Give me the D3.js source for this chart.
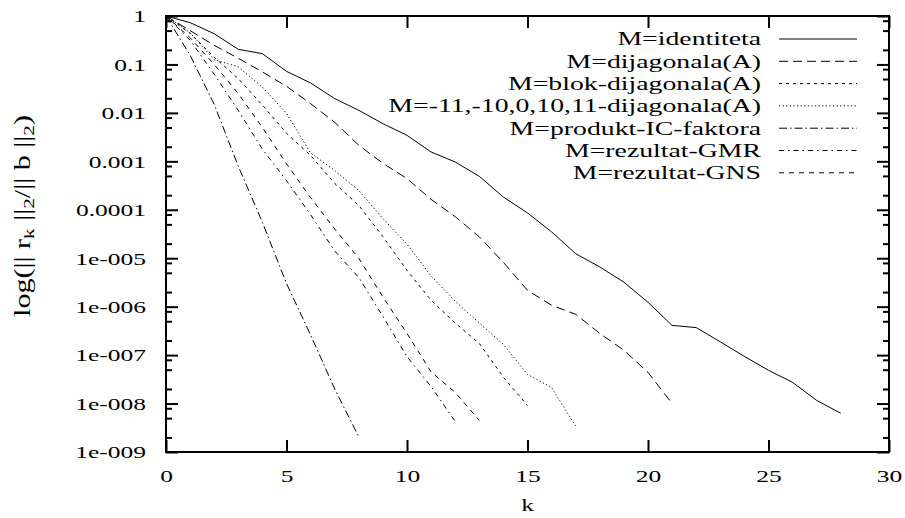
<!DOCTYPE html>
<html>
<head>
<meta charset="utf-8">
<script src="https://cdn.jsdelivr.net/npm/d3@7"></script>
<style>
  body { margin: 0; background: #fff; }
  text { font-family: "Liberation Serif", "Times New Roman", serif; fill: #000; }
</style>
</head>
<body>
<div id="chart"></div>
<script>
// residual norms per iteration k
var identiteta = [1, 0.73, 0.43, 0.205, 0.167, 0.072, 0.0414, 0.0197, 0.0113, 0.0060, 0.00344,
    0.00156, 0.00097, 0.00049, 1.83e-4, 8.6e-5, 3.5e-5, 1.24e-5, 6.6e-6, 3.2e-6, 1.23e-6,
    4.1e-7, 3.7e-7, 1.88e-7, 9.4e-8, 4.85e-8, 2.74e-8, 1.16e-8, 6.3e-9];
var dijagonala = [1, 0.5, 0.248, 0.134, 0.070, 0.0354, 0.0155, 0.0064, 0.00214, 9.1e-4, 4.4e-4,
    1.64e-4, 7.2e-5, 2.77e-5, 8.2e-6, 2.17e-6, 1.07e-6, 6.95e-7, 2.8e-7, 1.26e-7, 4.4e-8, 1.0e-8];
var blokDijagonala = [1, 0.44, 0.141, 0.051, 0.0145, 0.0038, 0.00132, 3.5e-4, 1.23e-4, 2.8e-5,
    5.6e-6, 1.35e-6, 4.6e-7, 1.74e-7, 3.5e-8, 9.1e-9];
var petDijagonala = [1, 0.45, 0.126, 0.089, 0.034, 0.0098, 0.00148, 6.5e-4, 2.5e-4, 6.6e-5,
    1.95e-5, 4.3e-6, 1.29e-6, 4.6e-7, 1.66e-7, 4.0e-8, 2.14e-8, 3.4e-9];
var produktIC = [1, 0.155, 0.015, 7.9e-4, 5.5e-5, 3.0e-6, 2.6e-7, 2.0e-8, 2.06e-9];
var rezultatGMR = [1, 0.316, 0.063, 0.0112, 0.00178, 4.0e-4, 7.9e-5, 1.41e-5, 4.0e-6, 6.3e-7,
    9.3e-8, 2.24e-8, 4.3e-9];
var rezultatGNS = [1, 0.355, 0.1, 0.025, 0.005, 8.9e-4, 1.78e-4, 4.0e-5, 1.0e-5, 1.58e-6,
    2.8e-7, 4.5e-8, 1.7e-8, 4.5e-9];

var seriesNames = ["M=identiteta", "M=dijagonala(A)", "M=blok-dijagonala(A)",
    "M=-11,-10,0,10,11-dijagonala(A)", "M=produkt-IC-faktora", "M=rezultat-GMR", "M=rezultat-GNS"];
var seriesValues = [identiteta, dijagonala, blokDijagonala, petDijagonala, produktIC, rezultatGMR, rezultatGNS];
var dashes = [null, "9,5", "3,4", "1.2,2.4", "8,3,1.5,3", "5,4,1.5,4", "5,5"];

var xTicks = [0, 5, 10, 15, 20, 25, 30];
var yTicks = [1, 0.1, 0.01, 0.001, 0.0001, 1e-5, 1e-6, 1e-7, 1e-8, 1e-9];
var yTickLabels = ["1", "0.1", "0.01", "0.001", "0.0001", "1e-005", "1e-006", "1e-007", "1e-008", "1e-009"];

var W = 905, H = 518;
var margin = { top: 16, right: 16, bottom: 66, left: 166 },
    width = W - margin.left - margin.right,
    height = H - margin.top - margin.bottom;
var sx = 1.5; // the original text is stretched horizontally

var svg = d3.select("#chart")
    .append("svg")
    .attr("width", W)
    .attr("height", H)
    .append("g")
    .attr("transform", "translate(" + margin.left + "," + margin.top + ")");

var x = d3.scaleLinear().domain([0, 30]).range([0, width]);
var y = d3.scaleLog().domain([1e-9, 1]).range([height, 0]);

// minor ticks at 2, 5, 8 of each decade
var yMinor = [];
for (var e = -9; e < 0; e++) {
    [2, 5, 8].forEach(function (m) { yMinor.push(m * Math.pow(10, e)); });
}

function styleTicks(g, w) {
    g.select(".domain").remove();
    g.selectAll("line").attr("stroke", "#000").attr("stroke-width", w);
}

// left axis
var yAxisG = svg.append("g")
    .call(d3.axisLeft(y).tickValues(yTicks).tickSize(-12).tickSizeOuter(0)
        .tickFormat(function (d, i) { return yTickLabels[i]; }));
styleTicks(yAxisG, 2);
yAxisG.selectAll("text")
    .attr("x", 0)
    .attr("dy", "0.34em")
    .attr("transform", "translate(-20,0) scale(" + sx + ",1)")
    .style("font-size", "17px")
    .style("font-family", "Liberation Serif");
svg.append("g").call(d3.axisLeft(y).tickValues(yMinor).tickSize(-6).tickFormat(""))
    .call(styleTicks, 2);

// right axis mirror
svg.append("g").attr("transform", "translate(" + width + ",0)")
    .call(d3.axisRight(y).tickValues(yTicks).tickSize(-12).tickFormat(""))
    .call(styleTicks, 2);
svg.append("g").attr("transform", "translate(" + width + ",0)")
    .call(d3.axisRight(y).tickValues(yMinor).tickSize(-6).tickFormat(""))
    .call(styleTicks, 2);

// bottom axis
var xAxisG = svg.append("g").attr("transform", "translate(0," + height + ")")
    .call(d3.axisBottom(x).tickValues(xTicks).tickSize(-12).tickSizeOuter(0));
styleTicks(xAxisG, 2);
xAxisG.selectAll("text")
    .attr("y", 0)
    .attr("dy", 0)
    .attr("transform", "translate(0,30) scale(" + sx + ",1)")
    .style("font-size", "17px")
    .style("font-family", "Liberation Serif");

// top axis mirror
svg.append("g")
    .call(d3.axisTop(x).tickValues(xTicks).tickSize(-12).tickFormat(""))
    .call(styleTicks, 2);

// frame
svg.append("rect")
    .attr("width", width).attr("height", height)
    .attr("fill", "none").attr("stroke", "#000").attr("stroke-width", 2);

// series
var line = d3.line()
    .x(function (d, i) { return x(i); })
    .y(function (d) { return y(d); });

seriesValues.forEach(function (vals, i) {
    svg.append("path")
        .datum(vals)
        .attr("d", line)
        .attr("fill", "none")
        .attr("stroke", "#000")
        .attr("stroke-width", 1)
        .attr("stroke-dasharray", dashes[i]);
});

// legend
var legend = svg.append("g").attr("transform", "translate(" + (761 - margin.left) + "," + (39 - margin.top) + ")");
seriesNames.forEach(function (name, i) {
    var row = legend.append("g").attr("transform", "translate(0," + (i * 22.3) + ")");
    row.append("text")
        .attr("text-anchor", "end")
        .attr("dy", "0.34em")
        .attr("transform", "scale(" + sx + ",1)")
        .style("font-size", "18.5px")
        .text(name);
    row.append("line")
        .attr("x1", 18).attr("x2", 96)
        .attr("stroke", "#000").attr("stroke-width", 1)
        .attr("stroke-dasharray", dashes[i]);
});

// axis titles
svg.append("text")
    .attr("transform", "translate(" + (width / 2) + "," + (height + 59) + ") scale(" + sx + ",1)")
    .attr("text-anchor", "middle")
    .style("font-size", "17px")
    .text("k");

var yl = svg.append("text")
    .attr("text-anchor", "middle")
    .style("font-size", "17px");
yl.append("tspan").text("log(|| r");
yl.append("tspan").attr("baseline-shift", "-25%").style("font-size", "12px").text("k");
yl.append("tspan").text(" ||");
yl.append("tspan").attr("baseline-shift", "-25%").style("font-size", "12px").text("2");
yl.append("tspan").text("/|| b ||");
yl.append("tspan").attr("baseline-shift", "-25%").style("font-size", "12px").text("2");
yl.append("tspan").text(")");
// stretch along its length to the original size
var len = yl.node().getComputedTextLength();
var along = 202 / len;
yl.attr("transform", "translate(" + (30 - margin.left) + "," + (216 - margin.top) + ") rotate(-90) scale(" + along + ",1.3)");
</script>
</body>
</html>
